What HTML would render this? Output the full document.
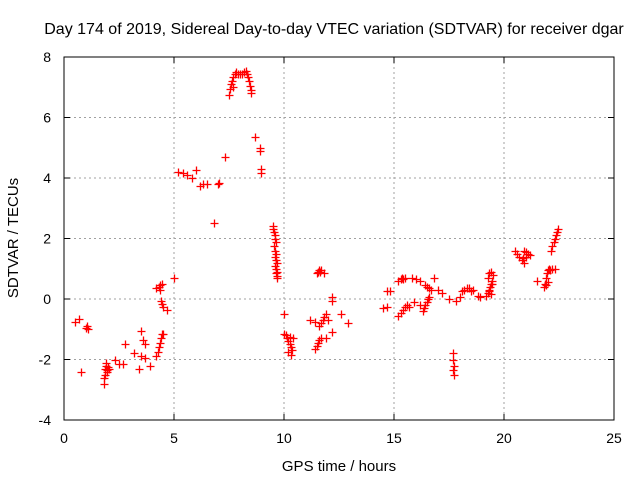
<!DOCTYPE html>
<html><head><meta charset="utf-8"><style>
body{margin:0;background:#fff;}
svg{display:block;font-family:"Liberation Sans",sans-serif;}
</style></head><body>
<svg id="chart" width="640" height="480">
<rect width="640" height="480" fill="#fff"/>
<text x="334" y="34" font-size="16" text-anchor="middle">Day 174 of 2019, Sidereal Day-to-day VTEC variation (SDTVAR) for receiver dgar</text>
<text x="339" y="471" font-size="15" text-anchor="middle">GPS time / hours</text>
<text transform="translate(18,238) rotate(-90)" font-size="15" text-anchor="middle">SDTVAR / TECUs</text>
<g id="grid"></g>
<g id="axes"></g>
<g id="marks"></g>
<rect x="64" y="57" width="550" height="363" fill="none" stroke="#000" stroke-width="1"/>
</svg>
<script>
const xTicks=[0,5,10,15,20,25];
const yTicks=[-4,-2,0,2,4,6,8];
const times=[0.5,0.7,0.75,1.0,1.05,1.1,
1.8,1.82,1.85,1.9,1.95,2.0,1.9,2.05,1.88,1.97,
2.3,2.5,2.7,2.75,3.2,3.4,3.5,3.5,3.7,3.7,3.9,3.6,
4.2,4.25,4.3,4.35,4.4,4.45,4.5,4.2,4.3,4.35,4.45,4.35,4.4,4.45,4.5,4.7,5.0,
5.2,5.4,5.6,5.8,6.0,6.2,6.3,6.5,6.8,7.0,7.05,7.3,
7.5,7.55,7.6,7.65,7.7,7.75,7.8,7.7,7.9,8.0,8.1,8.2,8.25,8.3,8.35,8.4,8.45,8.5,8.5,
8.7,8.9,8.92,8.95,8.97,
9.5,9.52,9.55,9.57,9.6,9.62,9.55,9.6,9.65,9.58,9.62,9.66,9.6,9.64,9.68,9.62,9.66,9.7,
10.0,10.0,10.1,10.15,10.2,10.25,10.3,10.35,10.2,10.3,10.4,10.25,
11.5,11.55,11.6,11.65,11.7,11.8,11.6,11.7,11.75,11.8,11.9,11.4,11.5,11.55,11.6,11.7,11.9,12.2,12.2,12.2,12.6,12.9,11.2,11.4,12.0,
14.5,14.7,14.7,14.8,
15.2,15.3,15.35,15.4,15.5,15.2,15.3,15.4,15.5,15.6,15.7,15.9,15.8,16.0,16.2,16.2,
16.3,16.35,16.4,16.5,16.55,16.6,16.4,16.5,16.6,16.7,16.8,17.0,17.2,17.5,17.7,17.7,17.72,17.7,17.72,
17.8,18.0,18.1,18.2,18.3,18.4,18.5,18.6,18.8,18.9,
19.2,19.25,19.3,19.35,19.4,19.45,19.5,19.25,19.3,19.4,19.45,19.3,19.4,
20.5,20.6,20.7,20.8,20.9,21.0,21.1,21.2,20.9,21.0,20.85,
21.5,21.8,21.85,21.9,21.95,22.0,22.05,22.1,21.9,22.0,22.2,22.3,22.15,22.2,22.25,22.3,22.35,22.4,22.45];
const values=[-0.75,-0.65,-2.4,-0.95,-0.9,-1.0,
-2.8,-2.6,-2.3,-2.2,-2.35,-2.25,-2.1,-2.3,-2.5,-2.4,
-2.0,-2.15,-2.15,-1.5,-1.8,-2.3,-1.05,-1.9,-1.5,-1.95,-2.2,-1.35,
-1.9,-1.75,-1.6,-1.45,-1.3,-1.15,-1.15,0.35,0.4,0.45,0.5,0.3,-0.05,-0.15,-0.25,-0.35,0.7,
4.2,4.15,4.1,4.0,4.25,3.75,3.8,3.8,2.5,3.8,3.85,4.7,
6.75,6.95,7.1,7.2,7.35,7.45,7.5,7.0,7.45,7.45,7.45,7.5,7.55,7.45,7.35,7.2,7.05,6.8,6.9,
5.35,5.0,4.9,4.3,4.15,
2.4,2.3,2.2,2.1,2.0,1.9,1.75,1.6,1.5,1.4,1.3,1.2,1.1,1.0,0.9,0.85,0.75,0.7,
-0.5,-1.15,-1.2,-1.3,-1.4,-1.5,-1.6,-1.7,-1.75,-1.85,-1.3,-1.25,
0.85,0.9,0.95,0.9,0.95,0.85,-0.9,-0.8,-0.7,-0.6,-0.5,-1.65,-1.55,-1.45,-1.35,-1.3,-1.3,-1.1,0.05,-0.05,-0.5,-0.8,-0.7,-0.75,-0.7,
-0.3,-0.25,0.25,0.25,
0.6,0.65,0.7,0.65,0.7,-0.55,-0.45,-0.35,-0.25,-0.2,-0.25,-0.1,0.7,0.65,-0.2,0.6,
-0.4,-0.3,-0.2,-0.1,0.0,0.05,0.45,0.4,0.35,0.3,0.7,0.3,0.2,0.0,-1.8,-2.0,-2.2,-2.35,-2.5,
-0.05,0.05,0.25,0.3,0.35,0.35,0.25,0.3,0.1,0.05,
0.1,0.2,0.3,0.4,0.5,0.6,0.8,0.7,0.85,0.9,0.5,0.25,0.15,
1.6,1.5,1.4,1.3,1.2,1.4,1.5,1.45,1.6,1.55,1.35,
0.6,0.4,0.5,0.7,0.85,0.95,1.0,0.95,0.45,0.55,1.0,1.0,1.6,1.75,1.9,2.0,2.1,2.2,2.3];
const X0=64,X1=614,Y0=420,Y1=57;
const xs=v=>X0+(v-0)/(25-0)*(X1-X0);
const ys=v=>Y0-(v+4)/12*(Y0-Y1);
const NS='http://www.w3.org/2000/svg';
const grid=document.getElementById('grid'),axes=document.getElementById('axes'),marks=document.getElementById('marks');
function mk(tag,attrs,parent){const e=document.createElementNS(NS,tag);for(const k in attrs)e.setAttribute(k,attrs[k]);parent.appendChild(e);return e;}
xTicks.forEach(t=>{const x=xs(t);
 if(t>0&&t<25){const g=mk('line',{x1:x,x2:x,y1:Y1,y2:Y0,stroke:'#a0a0a0','stroke-dasharray':'2,3'},grid);
  
  }
 const tk=mk('path',{d:`M${x},${Y0}v-6M${x},${Y1}v6`,stroke:'#000'},axes);
 
 
 const l=mk('text',{x:x,y:443,'font-size':14,'text-anchor':'middle'},axes);l.textContent=t;
 
 });
yTicks.forEach(t=>{const y=ys(t);
 if(t>-4&&t<8){const g=mk('line',{x1:X0,x2:X1,y1:y,y2:y,stroke:'#a0a0a0','stroke-dasharray':'2,3'},grid);
  
  }
 const tk=mk('path',{d:`M${X0},${y}h6M${X1},${y}h-6`,stroke:'#000'},axes);
 
 
 const l=mk('text',{x:51,y:y+5,'font-size':14,'text-anchor':'end'},axes);l.textContent=t;
 
 });
times.forEach((t,i)=>{const x=Math.round(xs(t))+0.5,y=Math.round(ys(values[i]))+0.5;
 const p=mk('path',{d:`M${x-4},${y}h8M${x},${y-4}v8`,stroke:'#ff0000','stroke-width':1.3},marks);
 
 });
</script>
</body></html>
